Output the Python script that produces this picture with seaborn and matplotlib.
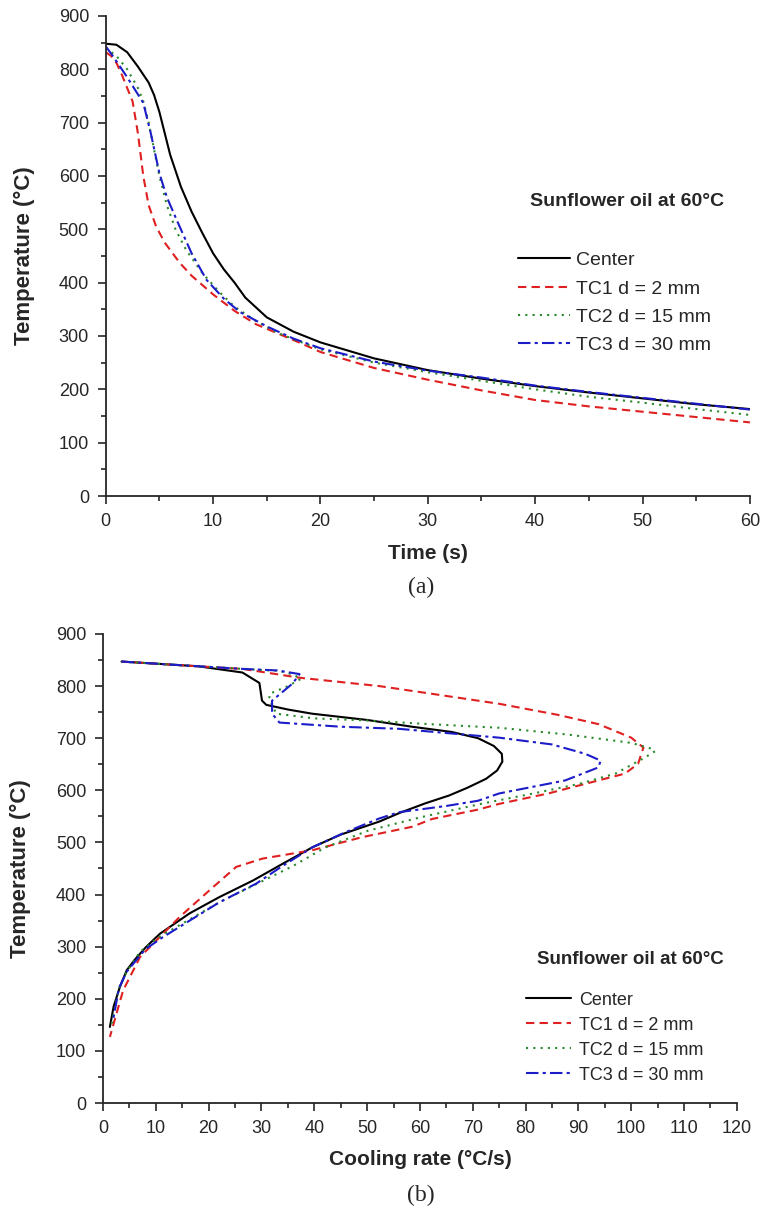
import pandas as pd
import seaborn as sns
import matplotlib.pyplot as plt
from matplotlib.ticker import MultipleLocator

# (a) cooling curves: temperature vs time
center_t = [0, 1, 2, 3, 4, 4.5, 5, 5.5, 6, 7, 8, 9, 10, 11, 12, 13, 15, 17.5, 20, 25, 30, 35, 40, 45, 50, 55, 60]
center_T = [848, 846, 832, 805, 775, 752, 720, 680, 640, 580, 533, 493, 455, 425, 400, 372, 335, 308, 288, 258, 236, 220, 206, 194, 183, 172, 163]
tc1_t = [0, 0.5, 1, 1.5, 2, 2.5, 3, 3.5, 4, 4.7, 5.5, 6.9, 8, 10, 12, 14, 16, 18, 20, 25, 30, 35, 40, 45, 50, 55, 60]
tc1_T = [832, 825, 812, 790, 765, 740, 680, 600, 545, 505, 475, 437, 413, 378, 347, 322, 305, 288, 270, 240, 218, 198, 180, 168, 158, 148, 138]
tc2_t = [0, 1, 2, 3, 3.5, 4, 4.5, 5, 5.7, 6.5, 7.5, 9, 10.6, 12, 14, 16, 18, 20, 25, 30, 35, 40, 45, 50, 55, 60]
tc2_T = [840, 825, 800, 765, 740, 700, 650, 600, 545, 500, 461, 418, 382, 355, 328, 306, 290, 275, 250, 232, 216, 200, 186, 175, 163, 152]
tc3_t = [0, 0.7, 2, 3.5, 4.2, 5, 5.7, 6.6, 8, 9.4, 11, 12.5, 15, 17.5, 20, 25, 30, 35, 40, 45, 50, 55, 60]
tc3_T = [843, 824, 785, 737, 680, 605, 560, 518, 455, 405, 370, 345, 318, 295, 277, 252, 235, 222, 207, 195, 184, 173, 162]

# (b) cooling rate curves: temperature vs cooling rate
center_r = [3.5, 10, 18, 26.4, 29.6, 30.1, 30.9, 35, 39.6, 50, 58.5, 66, 71, 74, 75.5, 75.6, 74.6, 72.5, 69, 65.5, 61, 56, 52.3, 45, 39.7, 34, 28.4, 22, 16.4, 10.8, 8.2, 6, 4.5, 3.2, 2, 1.3]
center_rT = [847, 843, 838, 826, 806, 772, 764, 755, 747, 735, 722, 712, 700, 685, 670, 655, 638, 622, 605, 590, 575, 556, 540, 515, 491, 459, 427, 395, 364, 325, 300, 275, 255, 223, 185, 146]
tc1_r = [3.5, 10, 18, 26.4, 37.2, 52.3, 61.7, 75, 86, 93.8, 100, 102.3, 101.3, 98.8, 93.8, 84.3, 75, 71, 62.3, 58.5, 49, 39.6, 30.2, 25.2, 20.8, 14.5, 10.2, 7, 3.8, 1.3]
tc1_rT = [847, 843, 838, 833, 816, 800, 786, 766, 745, 727, 701, 682, 651, 632, 619, 594, 574, 563, 545, 530, 510, 485, 469, 453, 414, 357, 313, 280, 216, 127]
tc2_r = [3.5, 10, 18, 26.4, 33.4, 36, 37.5, 35, 31.5, 31.5, 32.8, 40, 50, 61.7, 75, 88, 100, 103.8, 104.5, 102.6, 97, 90, 81, 72, 60, 50, 42, 36, 29, 22, 16, 10.5, 7, 4.5, 3, 1.6]
tc2_rT = [847, 843, 838, 833, 829, 822, 814, 800, 785, 775, 747, 738, 734, 727, 720, 707, 691, 680, 675, 663, 632, 612, 593, 575, 548, 522, 490, 455, 420, 385, 350, 318, 290, 252, 220, 150]
tc3_r = [3.5, 10, 18, 26.4, 33, 37.2, 35.9, 32, 32, 33.4, 45, 56, 75, 85, 91.3, 94.2, 93.8, 87.5, 75, 71, 65, 56, 52.3, 46, 39.7, 34, 29, 22, 16.4, 11.3, 8, 4.5, 3, 1.9]
tc3_rT = [847, 843, 838, 833, 830, 823, 805, 772, 747, 730, 722, 718, 701, 688, 670, 657, 644, 619, 594, 580, 570, 558, 546, 520, 491, 455, 421, 385, 350, 318, 295, 252, 220, 159]

labels = ['Center', 'TC1 d = 2 mm', 'TC2 d = 15 mm', 'TC3 d = 30 mm']
colors = ['black', '#e02020', '#2a8a2a', '#1c1cc8']
styles = ['-', (0, (4, 2.5)), (0, (1, 2.5)), (0, (6, 2, 1.5, 2))]

sns.set_style('ticks')
plt.rcParams['font.family'] = ['Liberation Sans', 'DejaVu Sans']
plt.rcParams['xtick.direction'] = 'out'
plt.rcParams['ytick.direction'] = 'out'

fig = plt.figure(figsize=(7.66, 12.08), dpi=100)
ax1 = fig.add_axes([0.138, 0.5894, 0.841, 0.3974])
ax2 = fig.add_axes([0.1345, 0.0869, 0.8275, 0.3883])

top = [(center_t, center_T), (tc1_t, tc1_T), (tc2_t, tc2_T), (tc3_t, tc3_T)]
bottom = [(center_r, center_rT), (tc1_r, tc1_rT), (tc2_r, tc2_rT), (tc3_r, tc3_rT)]

for (x, y), lab, c, ls in zip(top, labels, colors, styles):
    sns.lineplot(x=x, y=y, ax=ax1, color=c, linestyle=ls, linewidth=1.5, label=lab)
for (x, y), lab, c, ls in zip(bottom, labels, colors, styles):
    sns.lineplot(x=x, y=y, ax=ax2, color=c, linestyle=ls, linewidth=1.5, label=lab,
                 sort=False, estimator=None)

ax1.set_xlim(0, 60)
ax1.set_ylim(0, 900)
ax2.set_xlim(0, 120)
ax2.set_ylim(0, 900)

for ax, xlab, ylx in [(ax1, 'Time (s)', -0.110), (ax2, 'Cooling rate (°C/s)', -0.114)]:
    ax.xaxis.set_major_locator(MultipleLocator(10))
    ax.xaxis.set_minor_locator(MultipleLocator(5))
    ax.yaxis.set_major_locator(MultipleLocator(100))
    ax.yaxis.set_minor_locator(MultipleLocator(50))
    sns.despine(ax=ax)
    ax.spines['left'].set_linewidth(1.3)
    ax.spines['bottom'].set_linewidth(1.3)
    ax.tick_params(which='major', length=6, width=1.2, labelsize=13, pad=6)
    ax.tick_params(which='minor', length=3.5, width=1.2)
    ax.set_xlabel(xlab, fontsize=15, fontweight='bold')
    ax.set_ylabel('Temperature (°C)', fontsize=16, fontweight='bold')
    ax.xaxis.set_label_coords(0.5, -0.1)
    ax.yaxis.set_label_coords(ylx, 0.5)

ax1.text(0.658, 0.6125, 'Sunflower oil at 60°C', transform=ax1.transAxes,
         fontsize=14, fontweight='bold', va='center')
ax1.legend(loc='upper left', bbox_to_anchor=(0.640, 0.509), frameon=False, fontsize=14,
           handlelength=2.7, handletextpad=0.3, labelspacing=0.55, borderpad=0, borderaxespad=0)

ax2.text(0.6845, 0.305, 'Sunflower oil at 60°C', transform=ax2.transAxes,
         fontsize=13.5, fontweight='bold', va='center')
ax2.legend(loc='upper left', bbox_to_anchor=(0.667, 0.2373), frameon=False, fontsize=13,
           handlelength=2.5, handletextpad=0.45, labelspacing=0.44, borderpad=0, borderaxespad=0)

fig.text(0.55, 1 - 587 / 1208, '(a)', family='Liberation Serif', fontsize=17, ha='center', va='center')
fig.text(0.55, 1 - 1195 / 1208, '(b)', family='Liberation Serif', fontsize=17, ha='center', va='center')

fig.savefig('out.png', dpi=100)
